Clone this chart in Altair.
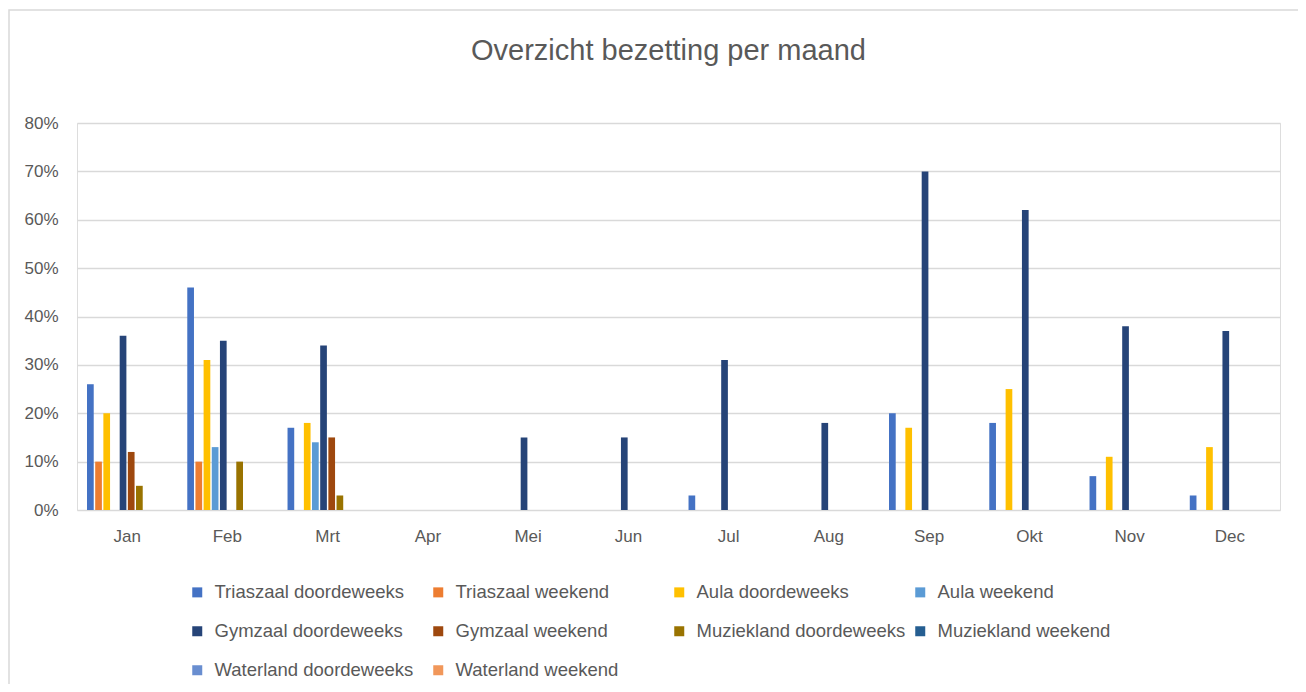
import altair as alt
import pandas as pd

months = ["Jan", "Feb", "Mrt", "Apr", "Mei", "Jun", "Jul", "Aug", "Sep", "Okt", "Nov", "Dec"]

series = [
    "Triaszaal doordeweeks", "Triaszaal weekend",
    "Aula doordeweeks", "Aula weekend",
    "Gymzaal doordeweeks", "Gymzaal weekend",
    "Muziekland doordeweeks", "Muziekland weekend",
    "Waterland doordeweeks", "Waterland weekend",
]

triaszaal_dd = [0.26, 0.46, 0.17, 0, 0, 0, 0.03, 0, 0.20, 0.18, 0.07, 0.03]
triaszaal_wk = [0.10, 0.10, 0, 0, 0, 0, 0, 0, 0, 0, 0, 0]
aula_dd = [0.20, 0.31, 0.18, 0, 0, 0, 0, 0, 0.17, 0.25, 0.11, 0.13]
aula_wk = [0, 0.13, 0.14, 0, 0, 0, 0, 0, 0, 0, 0, 0]
gymzaal_dd = [0.36, 0.35, 0.34, 0, 0.15, 0.15, 0.31, 0.18, 0.70, 0.62, 0.38, 0.37]
gymzaal_wk = [0.12, 0, 0.15, 0, 0, 0, 0, 0, 0, 0, 0, 0]
muziekland_dd = [0.05, 0.10, 0.03, 0, 0, 0, 0, 0, 0, 0, 0, 0]
muziekland_wk = [0, 0, 0, 0, 0, 0, 0, 0, 0, 0, 0, 0]
waterland_dd = [0, 0, 0, 0, 0, 0, 0, 0, 0, 0, 0, 0]
waterland_wk = [0, 0, 0, 0, 0, 0, 0, 0, 0, 0, 0, 0]

values = [triaszaal_dd, triaszaal_wk, aula_dd, aula_wk, gymzaal_dd,
          gymzaal_wk, muziekland_dd, muziekland_wk, waterland_dd, waterland_wk]

colors = ["#4472C4", "#ED7D31", "#FFC000", "#5B9BD5", "#264478",
          "#9E480E", "#997300", "#255E91", "#698ED0", "#F1975A"]

y_ticks = [0, 0.1, 0.2, 0.3, 0.4, 0.5, 0.6, 0.7, 0.8]

rows = []
for s, vals in zip(series, values):
    for m, v in zip(months, vals):
        rows.append({"maand": m, "serie": s, "waarde": v})
df = pd.DataFrame(rows)

FONT = "Liberation Sans"
GRAY = "#595959"

bars = alt.Chart(df).transform_filter("datum.waarde > 0").mark_bar().encode(
    x=alt.X(
        "maand:N", sort=months,
        scale=alt.Scale(domain=months, paddingInner=0.2, paddingOuter=0.1),
        axis=alt.Axis(title=None, labelAngle=0, ticks=False, tickSize=0, domain=False,
                      grid=False, labelFontSize=17, labelColor=GRAY, labelFont=FONT,
                      labelPadding=18),
    ),
    xOffset=alt.XOffset("serie:N", scale=alt.Scale(domain=series, paddingInner=0.18)),
    y=alt.Y(
        "waarde:Q",
        scale=alt.Scale(domain=[0, 0.8]),
        axis=alt.Axis(title=None, format=".0%", values=y_ticks, domain=False, ticks=False,
                      tickSize=0, gridColor="#D9D9D9", gridWidth=1.3, labelFontSize=17,
                      labelColor=GRAY, labelFont=FONT, labelPadding=19),
    ),
    color=alt.Color(
        "serie:N",
        scale=alt.Scale(domain=series, range=colors),
        legend=alt.Legend(
            title=None, orient="none", legendX=111, legendY=460, columns=4,
            direction="horizontal",
            gridAlign="all", columnPadding=5, rowPadding=20,
            symbolType="square", symbolSize=100, symbolStrokeWidth=0,
            labelFontSize=18.5, labelFont=FONT, labelColor=GRAY, labelOffset=8,
            labelLimit=400,
        ),
    ),
)

frame = alt.Chart(pd.DataFrame({"k": [0]})).mark_rect(
    filled=False, stroke="#D9D9D9", strokeWidth=1.5
).encode(
    x=alt.value(-68), x2=alt.value(1222), y=alt.value(-113), y2=alt.value(590)
)

chart = alt.layer(frame, bars).properties(
    width=1203,
    height=387,
    title=alt.TitleParams(
        "Overzicht bezetting per maand", fontSize=29, font=FONT, color=GRAY,
        fontWeight="normal", anchor="middle", dx=-10, offset=-80, baseline="alphabetic",
    ),
    autosize=alt.AutoSizeParams(type="none"),
    padding={"left": 69, "top": 115, "right": 18, "bottom": 174},
).configure_view(stroke=None).configure(background="white")

chart.save("out.html", embed_options={"renderer": "svg", "actions": False})
